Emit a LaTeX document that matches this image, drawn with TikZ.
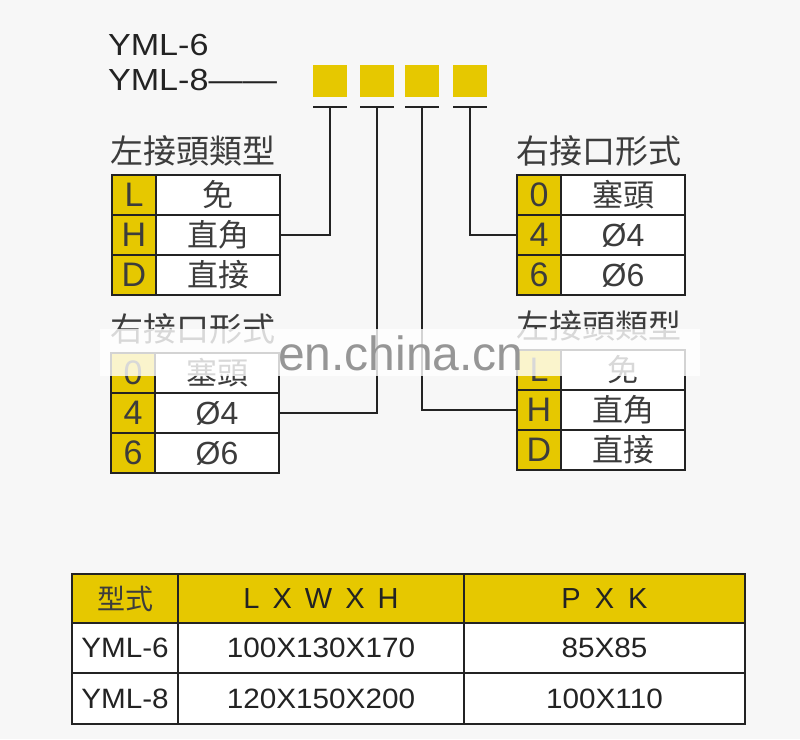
\documentclass[tikz,border=0pt]{standalone}
\usepackage{fontspec}
\setmainfont{Liberation Sans}
\newfontfamily\widefont[FakeStretch=1.12]{Liberation Sans}
\newfontfamily\tabfont[FakeStretch=1.06]{Liberation Sans}
\newfontfamily\cjk{Noto Sans CJK TC}
\definecolor{ykey}{RGB}{230,200,0}
\definecolor{bgc}{RGB}{247,247,247}
\definecolor{ink}{RGB}{35,35,35}
\definecolor{soft}{RGB}{60,60,60}
\definecolor{wmark}{RGB}{150,150,150}
\begin{document}
\begin{tikzpicture}[x=1pt,y=-1pt,
  every node/.style={outer sep=0pt},
  codecell/.style={draw=ink,line width=1.8pt,fill=ykey,minimum height=40pt,minimum width=44pt,inner sep=0pt,anchor=north west,font=\fontsize{34}{34}\selectfont,text=soft},
  valcell/.style={draw=ink,line width=1.8pt,fill=white,minimum height=40pt,minimum width=124pt,inner sep=0pt,anchor=north west,text=soft},
  cjkval/.style={font=\cjk\fontsize{31}{31}\selectfont},
  latval/.style={font=\fontsize{32}{32}\selectfont},
  titletext/.style={anchor=center,text=soft,font=\cjk\fontsize{33}{33}\selectfont,inner sep=0pt},
  keysq/.style={fill=ykey,minimum width=34pt,minimum height=32pt,inner sep=0pt,anchor=north west},
  conn/.style={draw=ink,line width=2pt},
  frame/.style={draw=ink,line width=2.5pt},
  hcell/.style={draw=ink,line width=1.8pt,fill=ykey,inner sep=0pt,anchor=north west,text=ink},
  dcell/.style={draw=ink,line width=1.8pt,fill=white,inner sep=0pt,anchor=north west,text=ink,font=\tabfont\fontsize{28}{28}\selectfont}
]
\fill[bgc] (0,0) rectangle (800,739);
\useasboundingbox (0,0) rectangle (800,739);

% model names
\node[anchor=base west,inner sep=0pt,text=ink,font=\widefont\fontsize{30.5}{30.5}\selectfont] (m6) at (108,55) {YML-6};
\node[anchor=base west,inner sep=0pt,text=ink,font=\widefont\fontsize{30.5}{30.5}\selectfont] (m8) at (108,90) {YML-8——};

% key squares
\node[keysq] (s1) at (313,65) {};
\node[keysq] (s2) at (360,65) {};
\node[keysq] (s3) at (405,65) {};
\node[keysq] (s4) at (453,65) {};
\foreach \i in {1,2,3,4}{
  \coordinate (bl\i) at ([yshift=-10pt]s\i.south west);
  \coordinate (br\i) at ([yshift=-10pt]s\i.south east);
  \coordinate (t\i) at ([yshift=-10pt]s\i.south);
  \draw[conn] (bl\i) -- (br\i);
}

% left upper table
\node[titletext] (ttlU) at (193,151) {左接頭類型};
\node[codecell] (LU1c) at (112,175) {L};
\node[valcell,cjkval] (LU1) at (LU1c.north east) {免};
\node[codecell] (LU2c) at (112,215) {H};
\node[valcell,cjkval] (LU2) at (LU2c.north east) {直角};
\node[codecell] (LU3c) at (112,255) {D};
\node[valcell,cjkval] (LU3) at (LU3c.north east) {直接};
\draw[frame] (LU1c.north west) rectangle (LU3.south east);

% right upper table
\node[titletext] (ttrU) at (599,151) {右接口形式};
\node[codecell] (RU1c) at (517,175) {0};
\node[valcell,cjkval] (RU1) at (RU1c.north east) {塞頭};
\node[codecell] (RU2c) at (517,215) {4};
\node[valcell,latval] (RU2) at (RU2c.north east) {Ø4};
\node[codecell] (RU3c) at (517,255) {6};
\node[valcell,latval] (RU3) at (RU3c.north east) {Ø6};
\draw[frame] (RU1c.north west) rectangle (RU3.south east);

% left lower table
\node[titletext] (ttlL) at (193,329) {右接口形式};
\node[codecell] (LL1c) at (111,353) {0};
\node[valcell,cjkval] (LL1) at (LL1c.north east) {塞頭};
\node[codecell] (LL2c) at (111,393) {4};
\node[valcell,latval] (LL2) at (LL2c.north east) {Ø4};
\node[codecell] (LL3c) at (111,433) {6};
\node[valcell,latval] (LL3) at (LL3c.north east) {Ø6};
\draw[frame] (LL1c.north west) rectangle (LL3.south east);

% right lower table
\node[titletext] (ttrL) at (599,326) {左接頭類型};
\node[codecell] (RL1c) at (517,350) {L};
\node[valcell,cjkval] (RL1) at (RL1c.north east) {免};
\node[codecell] (RL2c) at (517,390) {H};
\node[valcell,cjkval] (RL2) at (RL2c.north east) {直角};
\node[codecell] (RL3c) at (517,430) {D};
\node[valcell,cjkval] (RL3) at (RL3c.north east) {直接};
\draw[frame] (RL1c.north west) rectangle (RL3.south east);

% connectors
\draw[conn] (t1) |- (LU2.east);
\draw[conn] (t2) |- (LL2.east);
\draw[conn] (t3) |- (RL2c.west);
\draw[conn] (t4) |- (RU2c.west);

% watermark band
\fill[white,opacity=0.8] (100,329) rectangle (700,376);
\node[anchor=base west,inner sep=0pt,text=wmark,font=\fontsize{48}{48}\selectfont] (wm) at (278,370) {en.china.cn};

% bottom table
\node[hcell,minimum width=106pt,minimum height=49pt,text=soft,font=\cjk\fontsize{28}{28}\selectfont] (h1) at (72,574) {型式};
\node[hcell,minimum width=286pt,minimum height=49pt,font=\fontsize{29}{29}\selectfont] (h2) at (h1.north east) {L\hspace{13pt}X\hspace{13pt}W\hspace{13pt}X\hspace{13pt}H\hspace{18pt}};
\node[hcell,minimum width=281pt,minimum height=49pt,font=\fontsize{29}{29}\selectfont] (h3) at (h2.north east) {P\hspace{14pt}X\hspace{14pt}K};
\node[dcell,minimum width=106pt,minimum height=50pt] (a1) at (h1.south west) {YML-6};
\node[dcell,minimum width=286pt,minimum height=50pt] (a2) at (a1.north east) {100X130X170};
\node[dcell,minimum width=281pt,minimum height=50pt] (a3) at (a2.north east) {85X85};
\node[dcell,minimum width=106pt,minimum height=51pt] (b1) at (a1.south west) {YML-8};
\node[dcell,minimum width=286pt,minimum height=51pt] (b2) at (b1.north east) {120X150X200};
\node[dcell,minimum width=281pt,minimum height=51pt] (b3) at (b2.north east) {100X110};
\draw[frame] (h1.north west) rectangle (b3.south east);
\end{tikzpicture}
\end{document}
